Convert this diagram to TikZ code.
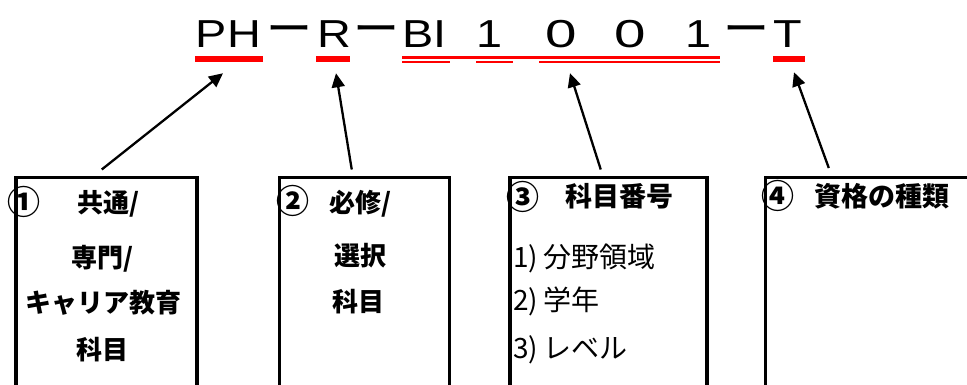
\documentclass[tikz,border=0pt]{standalone}
\usepackage{fontspec}
\setmainfont{Liberation Sans}
\newfontfamily\jp{Noto Sans CJK JP}
\newfontfamily\titlefont[FakeStretch=1.2]{Liberation Sans}
\newfontfamily\zerofont[FakeStretch=1.45]{Liberation Sans}
\usetikzlibrary{arrows.meta}
\tikzset{
  titlech/.style={inner sep=0pt, anchor=base, font=\titlefont\fontsize{39}{39}\selectfont},
  zeroch/.style={inner sep=0pt, anchor=base, font=\zerofont\fontsize{39}{39}\selectfont},
  dashch/.style={inner sep=0pt, anchor=base, font=\jp\fontsize{46}{46}\selectfont},
  uline/.style={fill=red, inner sep=0pt, minimum height=5.7pt},
  ulthin/.style={fill=red, inner sep=0pt, minimum height=2.5pt},
  infobox/.style={draw, line width=3.5pt, anchor=north west, inner sep=0pt, minimum height=260pt},
  jb/.style={inner sep=0pt, anchor=base, font=\jp\bfseries\fontsize{26}{26}\selectfont},
  circ/.style={inner sep=0pt, anchor=center, font=\jp\bfseries\fontsize{33}{33}\selectfont},
  jr/.style={inner sep=0pt, anchor=base west, font=\jp\fontsize{28}{28}\selectfont},
  arr/.style={line width=2.3pt, -{Triangle[length=14pt,width=13pt]}},
}
\begin{document}
\begin{tikzpicture}[x=1pt,y=-1pt]
\useasboundingbox (0,0) rectangle (967,385);
\clip (0,0) rectangle (967,385);
% title
\node[titlech] (ph) at (228.5,48) {PH};
\node[dashch] (d1) at (289.5,46) {ー};
\node[titlech] (r) at (334,48) {R};
\node[dashch] (d2) at (376,46) {ー};
\node[titlech] (bi) at (424.5,48) {BI};
\node[titlech] (one1) at (490,48) {1};
\node[zeroch] (zero1) at (561,48) {0};
\node[zeroch] (zero2) at (630,48) {0};
\node[titlech] (one2) at (699,48) {1};
\node[dashch] (d3) at (746,46) {ー};
\node[titlech] (t) at (788,48) {T};
% underlines
\node[uline, minimum width=68pt] (u1) at (229,58.8) {};
\node[uline, minimum width=34pt] (u2) at (333,58.8) {};
\node[ulthin, minimum width=318pt, minimum height=2.7pt] (u3) at (561,57.3) {};
\node[ulthin, minimum width=48pt, minimum height=2.3pt] (u3a) at (426,62.2) {};
\node[ulthin, minimum width=37pt, minimum height=2.3pt] (u3b) at (494.5,62.2) {};
\node[ulthin, minimum width=181pt, minimum height=2.3pt] (u3c) at (629.5,62.2) {};
\node[uline, minimum width=32pt] (u4) at (789,58.8) {};
% boxes
\node[infobox, minimum width=181pt] (b1) at (14,176) {};
\node[infobox, minimum width=169.8pt] (b2) at (277.7,176) {};
\node[infobox, minimum width=197pt] (b3) at (508.3,176) {};
\node[infobox, minimum width=260pt] (b4) at (763.8,176) {};
% box 1 text
\node[circ] (n1) at (24,202) {①};
\node[jb] (l1a) at (108.5,212) {共通/};
\node[jb] (l1b) at (103,267) {専門/};
\node[jb] (l1c) at (103,312) {キャリア教育};
\node[jb] (l1d) at (102.5,359) {科目};
% box 2 text
\node[circ] (n2) at (292.5,201) {②};
\node[jb] (l2a) at (360.5,212) {必修/};
\node[jb] (l2b) at (360,265) {選択};
\node[jb] (l2c) at (358,311) {科目};
% box 3 text
\node[circ] (n3) at (522.5,197) {③};
\node[jb, font=\jp\bfseries\fontsize{27}{27}\selectfont] (l3a) at (619,207) {科目番号};
\node[jr] (l3b) at (513,267) {1)\hspace{5pt}分野領域};
\node[jr] (l3c) at (513,310) {2)\hspace{5pt}学年};
\node[jr] (l3d) at (513,358) {3)\hspace{5pt}レベル};
% box 4 text
\node[circ] (n4) at (778,196) {④};
\node[jb, font=\jp\bfseries\fontsize{27}{27}\selectfont] (l4a) at (882,206) {資格の種類};
% arrows
\draw[arr] ([xshift=-4.5pt,yshift=6.5pt]b1.north) -- ([xshift=-6pt,yshift=-11.4pt]u1.south);
\draw[arr] ([xshift=-12.6pt,yshift=6.5pt]b2.north) -- ([xshift=3pt,yshift=-11.4pt]u2.south);
\draw[arr] ([xshift=-7.8pt,yshift=6.5pt]b3.north) -- ([xshift=9pt,yshift=-14.3pt]u3.south);
\draw[arr] ([xshift=65pt,yshift=8pt]b4.north west) -- ([xshift=5pt,yshift=-10.4pt]u4.south);
\end{tikzpicture}
\end{document}
